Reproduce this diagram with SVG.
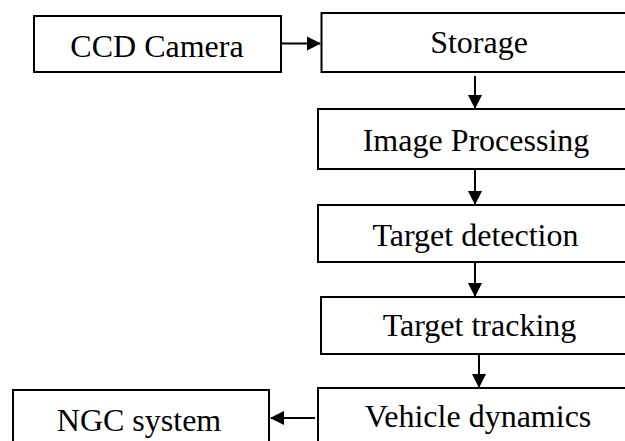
<svg xmlns="http://www.w3.org/2000/svg" width="625" height="441" viewBox="0 0 625 441">
  <style>
    .box { fill: #ffffff; stroke: #000000; stroke-width: 2; }
    .label { font-family: "Liberation Serif", "Times New Roman", serif; font-size: 32px; fill: #000000; text-anchor: middle; }
    .link { fill: none; stroke: #000000; stroke-width: 2; marker-end: url(#arrow); }
  </style>
  <defs>
    <marker id="arrow" markerUnits="userSpaceOnUse" markerWidth="15" markerHeight="15" refX="13" refY="7" orient="auto" viewBox="0 0 15 14">
      <path d="M0,0 L14,7 L0,14 Z" fill="#000000"/>
    </marker>
  </defs>
  <rect width="625" height="441" fill="#ffffff"/>

  <g id="ccd-camera">
    <rect class="box" x="34" y="16" width="247" height="56"/>
    <text class="label" x="157" y="57">CCD Camera</text>
  </g>
  <g id="storage">
    <rect class="box" x="321.5" y="13" width="320" height="59"/>
    <text class="label" x="479" y="52.5">Storage</text>
  </g>
  <g id="image-processing">
    <rect class="box" x="318" y="109" width="320" height="60"/>
    <text class="label" x="476" y="150.5">Image Processing</text>
  </g>
  <g id="target-detection">
    <rect class="box" x="318" y="205" width="320" height="57"/>
    <text class="label" x="475.5" y="245.5">Target detection</text>
  </g>
  <g id="target-tracking">
    <rect class="box" x="321" y="297" width="320" height="57"/>
    <text class="label" x="479.5" y="336">Target tracking</text>
  </g>
  <g id="vehicle-dynamics">
    <rect class="box" x="318" y="388" width="320" height="62"/>
    <text class="label" x="478" y="427">Vehicle dynamics</text>
  </g>
  <g id="ngc-system">
    <rect class="box" x="13" y="390" width="256" height="60"/>
    <text class="label" x="139" y="431">NGC system</text>
  </g>

  <g id="connectors">
    <line class="link" x1="281" y1="43.5" x2="320" y2="43.5"/>
    <line class="link" x1="475" y1="76" x2="475" y2="108"/>
    <line class="link" x1="475" y1="169" x2="475" y2="204"/>
    <line class="link" x1="475" y1="262" x2="475" y2="296"/>
    <line class="link" x1="479" y1="354" x2="479" y2="387"/>
    <line class="link" x1="315" y1="418" x2="271" y2="418"/>
  </g>
</svg>
